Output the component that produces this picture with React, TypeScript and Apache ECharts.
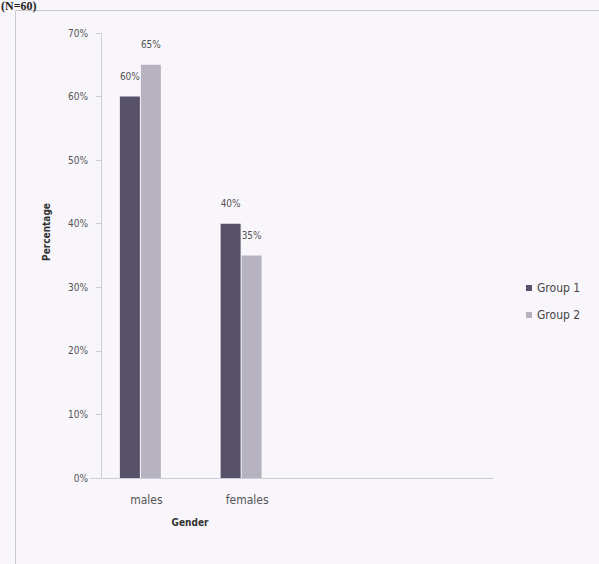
import React, { useEffect, useRef } from "react";
import * as echarts from "echarts";

// Gender distribution of the two study groups
const categories = ["males", "females"];
const seriesNames = ["Group 1", "Group 2"];
const group1 = [60, 40];
const group2 = [65, 35];
const yTicks = { min: 0, max: 70, interval: 10 };

const LABEL_FONT = "'Liberation Sans Narrow', 'DejaVu Sans Condensed', sans-serif";

export default function App() {
  const ref = useRef<HTMLDivElement>(null);

  useEffect(() => {
    if (!ref.current) return;
    const chart = echarts.init(ref.current, undefined, { renderer: "svg" });

    const barLabel = {
      show: true,
      position: "top" as const,
      distance: 15,
      formatter: "{c}%",
      fontFamily: LABEL_FONT,
      fontSize: 10,
      color: "#555",
    };

    chart.setOption({
      animation: false,
      backgroundColor: "#f8f6fb",
      grid: { left: 90, right: 106, top: 33, bottom: 86, containLabel: false },
      legend: {
        data: seriesNames,
        orient: "vertical",
        left: 521,
        top: 277,
        itemWidth: 6,
        itemHeight: 6,
        itemGap: 15,
        icon: "rect",
        textStyle: { fontFamily: LABEL_FONT, fontSize: 12, color: "#444" },
      },
      xAxis: {
        type: "category",
        data: categories,
        max: 3,
        axisLine: { show: true, lineStyle: { color: "#cfcdd6", width: 1 } },
        axisTick: { show: false },
        axisLabel: {
          margin: 16,
          padding: [0, 0, 0, 12],
          fontFamily: LABEL_FONT,
          fontSize: 12,
          color: "#555",
        },
        splitLine: { show: false },
      },
      yAxis: {
        type: "value",
        min: yTicks.min,
        max: yTicks.max,
        interval: yTicks.interval,
        offset: -11,
        axisLine: { show: true, lineStyle: { color: "#cfcdd6", width: 1 } },
        axisTick: { show: true, length: 5, lineStyle: { color: "#cfcdd6" } },
        axisLabel: {
          formatter: "{value}%",
          margin: 13,
          fontFamily: LABEL_FONT,
          fontSize: 10,
          color: "#555",
        },
        splitLine: { show: false },
      },
      series: [
        {
          name: seriesNames[0],
          type: "bar",
          data: group1,
          barWidth: 20,
          barGap: "5%",
          itemStyle: { color: "#57526a" },
          label: barLabel,
        },
        {
          name: seriesNames[1],
          type: "bar",
          data: group2,
          barWidth: 20,
          itemStyle: { color: "#b6b2c0" },
          label: barLabel,
        },
      ],
      graphic: [
        {
          type: "rect",
          shape: { x: 15.5, y: 10.5, width: 700, height: 700 },
          style: { fill: "none", stroke: "#c9c7cf", lineWidth: 1 },
          silent: true,
        },
        {
          type: "text",
          left: 1,
          top: 0,
          style: {
            text: "(N=60)",
            fontFamily: "'Liberation Serif', serif",
            fontWeight: "bold",
            fontSize: 12,
            fill: "#222",
          },
        },
        {
          type: "text",
          x: 46,
          y: 232,
          rotation: Math.PI / 2,
          style: {
            text: "Percentage",
            fontFamily: LABEL_FONT,
            fontWeight: "bold",
            fontSize: 10,
            fill: "#333",
            align: "center",
            verticalAlign: "middle",
          },
        },
        {
          type: "text",
          x: 190,
          y: 522,
          style: {
            text: "Gender",
            fontFamily: LABEL_FONT,
            fontWeight: "bold",
            fontSize: 10,
            fill: "#333",
            align: "center",
            verticalAlign: "middle",
          },
        },
      ],
    });

    return () => chart.dispose();
  }, []);

  return (
    <div
      ref={ref}
      style={{ position: "fixed", left: 0, top: 0, width: 599, height: 564 }}
    />
  );
}
